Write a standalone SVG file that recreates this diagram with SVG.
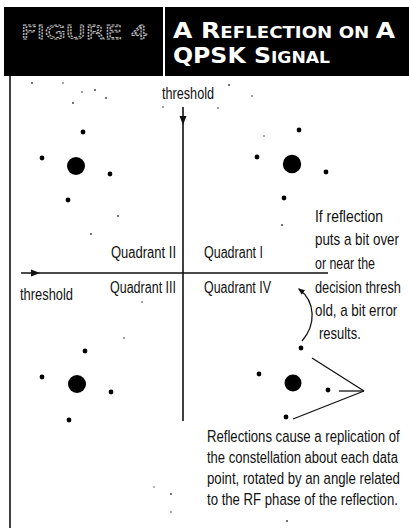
<svg xmlns="http://www.w3.org/2000/svg" width="409" height="528" viewBox="0 0 409 528">
<style>
.t{font-family:"Liberation Sans",Arial,sans-serif;font-size:16px;fill:#111}
.ttl{font-family:"DejaVu Sans",Verdana,sans-serif;font-weight:bold;fill:#fff}
.ax{stroke:#111;stroke-width:1.6;fill:none}
.ln{stroke:#111;stroke-width:1.3;fill:none}
.big{fill:#000}
.sm{fill:#000}
.sp{fill:#333}
</style>
<defs>
<marker id="ah" viewBox="0 0 10 10" refX="8" refY="5" markerWidth="7" markerHeight="7" orient="auto" markerUnits="userSpaceOnUse">
<path d="M0,1 L10,5 L0,9 Z" fill="#111"/>
</marker>
</defs>
<rect width="409" height="528" fill="#fff"/>
<g id="header">
<rect x="4" y="7" width="405" height="69" fill="#000"/>
<line x1="164" y1="7" x2="164" y2="76" stroke="#fff" stroke-width="2"/>
<text x="21" y="39" textLength="127" lengthAdjust="spacingAndGlyphs" style="font-family:'DejaVu Sans',sans-serif;font-size:19px;fill:none;stroke:#bbb;stroke-width:1;stroke-dasharray:2 1">FIGURE 4</text>
<text class="ttl" x="173" y="38" textLength="222" lengthAdjust="spacingAndGlyphs"><tspan font-size="22">A R</tspan><tspan font-size="16">EFLECTION ON </tspan><tspan font-size="22">A</tspan></text>
<text class="ttl" x="173" y="63" textLength="157" lengthAdjust="spacingAndGlyphs"><tspan font-size="22">QPSK S</tspan><tspan font-size="16">IGNAL</tspan></text>
</g>
<g id="frame">
<line x1="10" y1="76" x2="10" y2="528" stroke="#111" stroke-width="1.6"/>
</g>
<g id="connectors">
<line class="ax" x1="183" y1="107" x2="183" y2="421"/>
<path d="M179.5,116 L183,125 L186.5,116 Z" fill="#111"/>
<line class="ax" x1="21" y1="273" x2="328" y2="273"/>
<path d="M31,269.5 L40,273 L31,276.5 Z" fill="#111"/>
<path class="ln" d="M302,341 C316,325 316,302 299,289" marker-end="url(#ah)"/>
<line class="ln" x1="312" y1="358" x2="364" y2="391"/>
<line class="ln" x1="339" y1="391" x2="364" y2="391"/>
<line class="ln" x1="293" y1="419" x2="364" y2="391"/>
</g>
<g id="quadrant-II-points">
<circle class="big" cx="76" cy="166" r="9"/>
<circle class="sm" cx="83" cy="132" r="2.4"/>
<circle class="sm" cx="42" cy="158" r="2.4"/>
<circle class="sm" cx="110" cy="174" r="2.4"/>
<circle class="sm" cx="68" cy="200" r="2.4"/>
</g>
<g id="quadrant-I-points">
<circle class="big" cx="292" cy="164" r="9.2"/>
<circle class="sm" cx="299" cy="130" r="2.4"/>
<circle class="sm" cx="257" cy="157" r="2.4"/>
<circle class="sm" cx="326" cy="172" r="2.4"/>
<circle class="sm" cx="284" cy="198" r="2.4"/>
</g>
<g id="quadrant-III-points">
<circle class="big" cx="77" cy="384" r="9"/>
<circle class="sm" cx="85" cy="351" r="2.4"/>
<circle class="sm" cx="42" cy="377" r="2.4"/>
<circle class="sm" cx="111" cy="392" r="2.4"/>
<circle class="sm" cx="69" cy="420" r="2.4"/>
</g>
<g id="quadrant-IV-points">
<circle class="big" cx="293" cy="383" r="8.5"/>
<circle class="sm" cx="301" cy="348" r="2.4"/>
<circle class="sm" cx="259" cy="374" r="2.4"/>
<circle class="sm" cx="328" cy="390" r="2.4"/>
<circle class="sm" cx="286" cy="417" r="2.4"/>
</g>
<g id="labels">
<text class="t" x="162" y="99" textLength="52" lengthAdjust="spacingAndGlyphs">threshold</text>
<text class="t" x="20" y="300" textLength="53" lengthAdjust="spacingAndGlyphs">threshold</text>
<text class="t" x="111" y="258" textLength="65" lengthAdjust="spacingAndGlyphs">Quadrant II</text>
<text class="t" x="204" y="258" textLength="59" lengthAdjust="spacingAndGlyphs">Quadrant I</text>
<text class="t" x="110" y="293" textLength="66" lengthAdjust="spacingAndGlyphs">Quadrant III</text>
<text class="t" x="204" y="293" textLength="67" lengthAdjust="spacingAndGlyphs">Quadrant IV</text>
</g>
<g id="note-error">
<text class="t" transform="translate(315,222) scale(0.87,1)">If reflection</text>
<text class="t" transform="translate(315,245) scale(0.836,1)">puts a bit over</text>
<text class="t" transform="translate(315,269) scale(0.775,1)">or near the</text>
<text class="t" transform="translate(315,293) scale(0.8,1)">decision thresh</text>
<text class="t" transform="translate(315,316) scale(0.834,1)">old, a bit error</text>
<text class="t" transform="translate(319,339) scale(0.81,1)">results.</text>
</g>
<g id="note-reflection">
<text class="t" transform="translate(207,442) scale(0.822,1)">Reflections cause a replication of</text>
<text class="t" transform="translate(207,463) scale(0.813,1)">the constellation about each data</text>
<text class="t" transform="translate(207,484) scale(0.825,1)">point, rotated by an angle related</text>
<text class="t" transform="translate(207,505) scale(0.823,1)">to the RF phase of the reflection.</text>
</g>
<g id="specks">
<circle class="sp" cx="32" cy="83" r="0.9"/>
<circle class="sp" cx="63" cy="83" r="0.8"/>
<circle class="sp" cx="82" cy="92" r="0.8"/>
<circle class="sp" cx="95" cy="90" r="0.9"/>
<circle class="sp" cx="106" cy="98" r="0.9"/>
<circle class="sp" cx="73" cy="103" r="0.9"/>
<circle class="sp" cx="163" cy="107" r="0.8"/>
<circle class="sp" cx="229" cy="85" r="0.9"/>
<circle class="sp" cx="252" cy="96" r="0.8"/>
<circle class="sp" cx="218" cy="108" r="0.8"/>
<circle class="sp" cx="264" cy="136" r="0.8"/>
<circle class="sp" cx="118" cy="216" r="0.9"/>
<circle class="sp" cx="91" cy="234" r="0.9"/>
<circle class="sp" cx="142" cy="302" r="0.8"/>
<circle class="sp" cx="282" cy="225" r="0.9"/>
<circle class="sp" cx="124" cy="338" r="0.8"/>
<circle class="sp" cx="154" cy="487" r="0.7"/>
<circle class="sp" cx="171" cy="494" r="0.9"/>
<circle class="sp" cx="171" cy="512" r="0.8"/>
<circle class="sp" cx="287" cy="521" r="0.9"/>
</g>
</svg>
